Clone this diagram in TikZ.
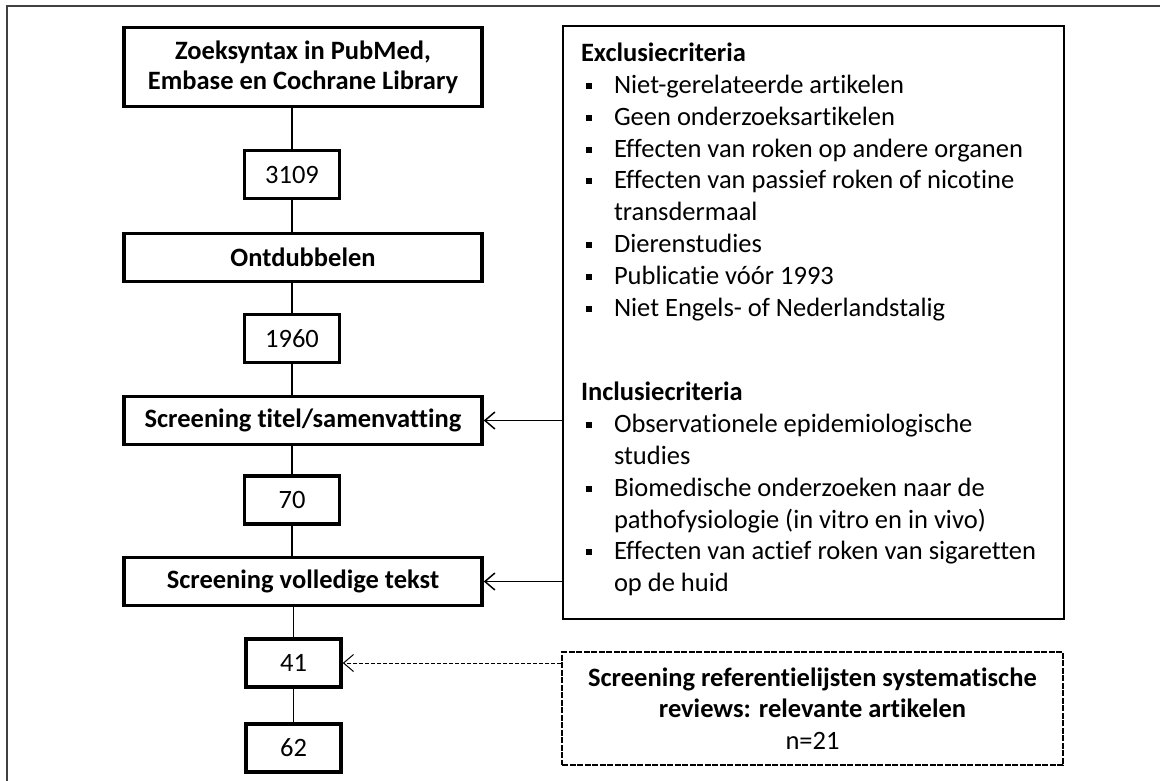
\documentclass[tikz,border=0pt]{standalone}
\usepackage{fontspec}
\setmainfont{Carlito}[Ligatures=NoCommon]
\usepackage{enumitem}
\usetikzlibrary{arrows.meta, positioning}

\begin{document}
\begin{tikzpicture}[x=1pt, y=-1pt, > = {Straight Barb[length=10pt, width=17pt]},
    font = \fontsize{26.5}{31.8}\selectfont,
    stap/.style = {draw, line width=3.5pt, inner sep=0pt, minimum width=358pt, minimum height=48pt, align=center, font=\fontsize{26.5}{30}\selectfont\bfseries},
    getal/.style = {draw, line width=3.5pt, inner sep=0pt, minimum width=95pt, minimum height=48pt},
    lijn/.style = {line width=1.5pt},
    ]
    \useasboundingbox (0,0) rectangle (1160,780);
    \draw[color=black!75, line width=1.5pt] (7,790) -- (7,6) -- (1170,6);

    % linker kolom
    \node[stap, minimum height=79pt] (zoek) at (303,67) {Zoeksyntax in PubMed,\\Embase en Cochrane Library};
    \node[getal] (n3109) at (292,174.5) {3109};
    \node[stap] (ontdub) at (303,257.5) {Ontdubbelen};
    \node[getal] (n1960) at (292,338.5) {1960};
    \node[stap] (titel) at (303,420.5) {Screening titel/samenvatting};
    \node[getal] (n70) at (292,500) {70};
    \node[stap] (tekst) at (303,581.5) {Screening volledige tekst};
    \node[getal] (n41) at (293.5,663) {41};
    \node[getal] (n62) at (293.5,748) {62};

    \foreach \a/\b in {zoek/n3109, ontdub/n1960, titel/n70, tekst/n41}
        \draw[lijn] (\a.south -| \b) -- (\b);
    \foreach \a/\b in {n3109/ontdub, n1960/titel, n70/tekst, n41/n62}
        \draw[lijn] (\a) -- (\a |- \b.north);

    % criteria
    \node[draw, line width=2pt, inner sep=0pt, anchor=north west] (crit) at (562,25) {%
        \begin{minipage}[c][593pt][t]{501pt}
        \vspace*{17pt}
        \noindent\hspace*{18pt}\textbf{Exclusiecriteria}
        \begin{itemize}[nosep, leftmargin=51pt, labelwidth=6pt, labelsep=22pt, align=left, label=\raisebox{4.5pt}{\rule{6pt}{6pt}}]
            \item Niet-gerelateerde artikelen
            \item Geen onderzoeksartikelen
            \item Effecten van roken op andere organen
            \item Effecten van passief roken of nicotine\newline transdermaal
            \item Dierenstudies
            \item Publicatie vóór 1993
            \item Niet Engels- of Nederlandstalig
        \end{itemize}
        \vspace{53pt}
        \noindent\hspace*{18pt}\textbf{Inclusiecriteria}
        \begin{itemize}[nosep, leftmargin=51pt, labelwidth=6pt, labelsep=22pt, align=left, label=\raisebox{4.5pt}{\rule{6pt}{6pt}}]
            \item Observationele epidemiologische\newline studies
            \item Biomedische onderzoeken naar de\newline pathofysiologie (in vitro en in vivo)
            \item Effecten van actief roken van sigaretten\newline op de huid
        \end{itemize}
        \end{minipage}};

    \node[draw, line width=1.5pt, dash pattern=on 6pt off 1.5pt, inner sep=0pt, minimum width=501pt, minimum height=113pt, align=center, font=\fontsize{26.5}{31.5}\selectfont\bfseries] (refs) at (812.5,708.5) {Screening referentielijsten systematische\\reviews: relevante artikelen\\{\mdseries n=21}};

    \draw[lijn, ->] (crit.west |- titel) -- (titel);
    \draw[lijn, ->] (crit.west |- tekst) -- (tekst);
    \draw[line width=1pt, dash pattern=on 4pt off 2pt, ->] (refs.west |- n41) -- (n41);
\end{tikzpicture}
\end{document}
